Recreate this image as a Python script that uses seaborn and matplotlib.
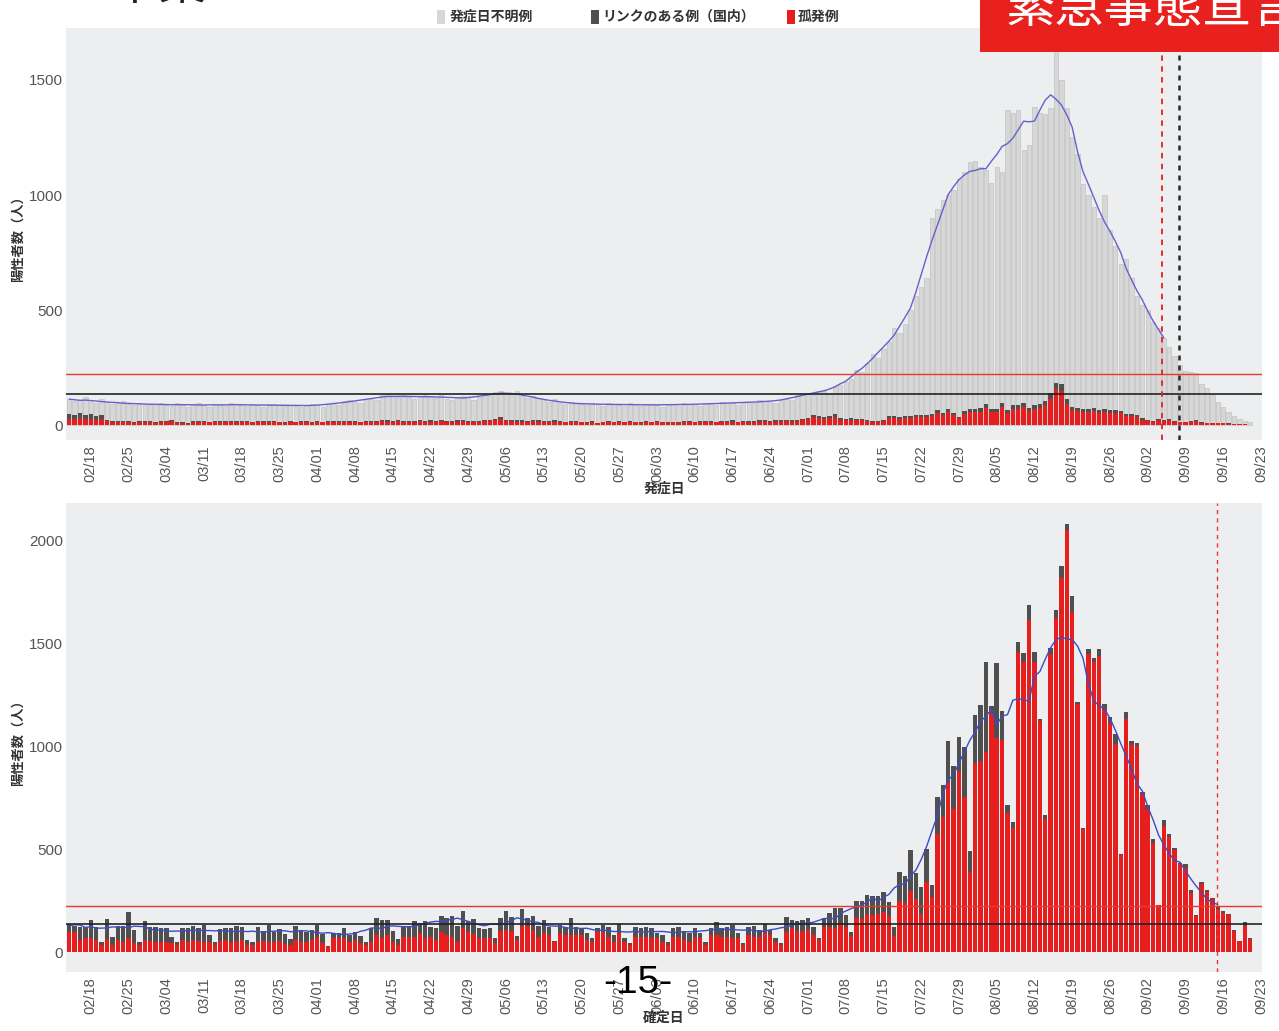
import numpy as np
import pandas as pd
import matplotlib
matplotlib.use("Agg")
import matplotlib.pyplot as plt
from matplotlib.patches import Rectangle
import seaborn as sns

sns.set_style("white")
plt.rcParams["font.family"] = ["Liberation Sans", "Noto Sans CJK JP"]

# ---------------------------------------------------------------------------
# Data: daily counts from 2021-02-14 (one row per week, Sunday..Saturday)
# ---------------------------------------------------------------------------
tick_labels = ["02/18", "02/25", "03/04", "03/11", "03/18", "03/25", "04/01",
               "04/08", "04/15", "04/22", "04/29", "05/06", "05/13", "05/20",
               "05/27", "06/03", "06/10", "06/17", "06/24", "07/01", "07/08",
               "07/15", "07/22", "07/29", "08/05", "08/12", "08/19", "08/26",
               "09/02", "09/09", "09/16", "09/23"]

# Upper panel: by onset date
onset_isolated = [
    28, 25, 30, 26, 28, 22, 25,
    18, 12, 13, 14, 12, 10, 13,
    12, 13, 11, 14, 12, 18, 11,
    10, 6, 13, 12, 14, 12, 13,
    14, 12, 13, 15, 12, 13, 12,
    12, 13, 12, 14, 12, 10, 13,
    12, 14, 13, 10, 13, 12, 14,
    13, 12, 14, 15, 13, 12, 14,
    14, 13, 16, 15, 14, 17, 15,
    15, 13, 16, 14, 15, 14, 16,
    14, 13, 15, 18, 14, 13, 14,
    16, 18, 20, 28, 17, 16, 15,
    15, 14, 16, 15, 14, 13, 15,
    13, 12, 14, 13, 12, 11, 13,
    8, 12, 13, 12, 14, 12, 13,
    12, 11, 13, 12, 14, 12, 11,
    12, 10, 14, 13, 12, 13, 14,
    13, 12, 14, 13, 15, 12, 14,
    14, 13, 15, 16, 14, 15, 17,
    17, 15, 18, 20, 25, 33, 29,
    28, 31, 36, 23, 22, 22, 21,
    22, 16, 14, 15, 16, 30, 31,
    28, 31, 30, 33, 33, 34, 38,
    52, 43, 55, 42, 29, 50, 55,
    57, 58, 74, 55, 57, 79, 53,
    70, 71, 77, 59, 71, 75, 87,
    115, 155, 150, 93, 64, 59, 57,
    56, 59, 53, 56, 53, 54, 51,
    40, 38, 36, 24, 18, 14, 21,
    18, 21, 15, 12, 12, 13, 18,
    10, 8, 8, 7, 8, 6, 5,
    3, 3, 2,
]
onset_linked = [
    22, 20, 22, 18, 20, 18, 20,
    6, 4, 5, 5, 4, 3, 4,
    4, 5, 3, 4, 4, 6, 3,
    3, 2, 4, 5, 4, 3, 4,
    4, 5, 4, 3, 4, 4, 3,
    4, 3, 4, 5, 3, 3, 4,
    3, 4, 4, 3, 4, 3, 5,
    4, 4, 5, 4, 5, 3, 4,
    5, 4, 5, 6, 5, 5, 4,
    4, 5, 6, 5, 5, 4, 5,
    5, 4, 5, 6, 4, 4, 5,
    6, 6, 6, 8, 6, 5, 5,
    5, 4, 5, 5, 4, 4, 5,
    4, 3, 4, 4, 3, 3, 4,
    2, 3, 4, 3, 4, 3, 4,
    3, 3, 4, 3, 4, 3, 3,
    3, 3, 4, 4, 3, 4, 4,
    4, 3, 4, 4, 5, 3, 4,
    4, 4, 5, 5, 4, 5, 5,
    5, 5, 6, 6, 7, 10, 9,
    8, 9, 10, 7, 6, 7, 6,
    6, 4, 4, 4, 4, 8, 9,
    8, 9, 8, 9, 9, 9, 10,
    13, 11, 13, 10, 7, 12, 13,
    13, 14, 17, 13, 13, 18, 12,
    15, 16, 17, 13, 16, 17, 19,
    23, 29, 28, 19, 14, 13, 13,
    12, 13, 12, 12, 12, 12, 11,
    8, 8, 7, 5, 4, 3, 4,
    4, 4, 3, 2, 2, 3, 4,
    2, 2, 2, 2, 2, 1, 1,
    1, 0, 0,
]
onset_unknown = [
    65, 60, 58, 76, 52, 55, 70,
    76, 74, 77, 86, 76, 72, 81,
    76, 67, 76, 78, 72, 58, 81,
    75, 72, 75, 78, 67, 63, 73,
    72, 65, 78, 74, 72, 67, 75,
    70, 64, 76, 71, 70, 69, 71,
    69, 60, 71, 77, 69, 65, 73,
    78, 72, 86, 91, 82, 83, 97,
    99, 93, 109, 114, 106, 98, 113,
    101, 94, 106, 113, 105, 100, 109,
    96, 91, 102, 101, 102, 93, 105,
    108, 101, 119, 112, 117, 111, 130,
    108, 100, 104, 98, 92, 83, 92,
    81, 75, 82, 79, 77, 72, 78,
    82, 69, 78, 77, 70, 67, 77,
    75, 68, 75, 75, 68, 65, 78,
    77, 71, 76, 75, 73, 67, 77,
    79, 73, 82, 81, 74, 73, 82,
    84, 77, 88, 85, 82, 76, 88,
    93, 88, 106, 112, 103, 87, 112,
    114, 100, 119, 145, 157, 171, 213,
    202, 250, 292, 271, 310, 322, 380,
    364, 400, 462, 518, 558, 597, 852,
    875, 926, 932, 968, 1034, 1038, 1077,
    1080, 1051, 1018, 983, 1053, 1003, 1305,
    1270, 1283, 1102, 1145, 1297, 1263, 1244,
    1242, 1516, 1322, 1268, 1172, 1108, 980,
    932, 878, 835, 932, 785, 714, 638,
    672, 594, 517, 491, 478, 433, 395,
    358, 315, 282, 246, 221, 214, 203,
    168, 150, 120, 91, 70, 48, 34,
    21, 15, 10,
]

# Lower panel: by confirmation date
confirmed_isolated = [
    95, 95, 58, 66, 70, 58, 34,
    63, 34, 58, 50, 66, 42, 34,
    58, 53, 50, 50, 50, 42, 34,
    58, 50, 58, 53, 50, 50, 34,
    53, 58, 50, 53, 58, 34, 34,
    50, 53, 50, 50, 53, 37, 34,
    58, 50, 50, 58, 74, 42, 26,
    66, 66, 66, 50, 58, 42, 34,
    50, 83, 66, 83, 50, 34, 74,
    74, 74, 91, 66, 74, 58, 99,
    83, 74, 50, 118, 99, 88, 66,
    66, 66, 42, 102, 107, 102, 58,
    128, 128, 107, 74, 91, 83, 50,
    91, 83, 83, 83, 83, 58, 50,
    99, 99, 74, 50, 91, 50, 34,
    74, 74, 74, 66, 66, 50, 34,
    74, 74, 58, 50, 74, 66, 34,
    83, 83, 74, 74, 66, 66, 34,
    83, 74, 74, 91, 83, 50, 34,
    99, 115, 102, 102, 107, 83, 58,
    123, 123, 118, 140, 120, 80, 165,
    160, 185, 180, 185, 196, 176, 79,
    247, 237, 298, 257, 186, 338, 267,
    572, 654, 827, 695, 878, 755, 389,
    918, 928, 969, 1162, 1040, 1030, 674,
    603, 1457, 1407, 1610, 1407, 1122, 644,
    1447, 1620, 1814, 2047, 1651, 1203, 598,
    1447, 1407, 1437, 1173, 1112, 1010, 471,
    1132, 1005, 1000, 766, 694, 527, 227,
    613, 557, 496, 425, 410, 288, 176,
    328, 293, 257, 211, 191, 178, 104,
    54, 125, 64,
]
confirmed_linked = [
    39, 33, 65, 57, 85, 65, 16,
    97, 40, 70, 78, 127, 65, 16,
    92, 70, 70, 65, 65, 32, 16,
    60, 65, 68, 62, 81, 33, 16,
    57, 57, 65, 73, 65, 24, 16,
    70, 49, 81, 49, 57, 49, 27,
    70, 57, 49, 49, 57, 44, 5,
    28, 28, 49, 33, 41, 36, 16,
    65, 80, 89, 72, 52, 27, 52,
    52, 76, 48, 84, 49, 57, 77,
    80, 102, 78, 82, 51, 72, 49,
    46, 52, 28, 65, 92, 70, 21,
    79, 35, 69, 52, 64, 40, 5,
    40, 40, 84, 37, 32, 33, 16,
    19, 32, 49, 33, 43, 16, 8,
    46, 41, 46, 52, 25, 33, 16,
    44, 46, 44, 41, 41, 25, 16,
    35, 64, 41, 46, 65, 25, 8,
    40, 54, 33, 43, 24, 16, 8,
    73, 40, 48, 53, 60, 37, 8,
    44, 65, 94, 75, 60, 15, 85,
    90, 90, 92, 85, 97, 68, 41,
    141, 133, 196, 129, 132, 160, 59,
    181, 157, 198, 207, 167, 241, 101,
    231, 270, 439, 31, 363, 141, 39,
    27, 46, 46, 74, 49, 10, 23,
    31, 39, 60, 29, 79, 11, 3,
    23, 22, 36, 33, 29, 49, 3,
    33, 20, 17, 13, 19, 21, 1,
    26, 15, 11, 8, 15, 13, 2,
    14, 8, 3, 7, 8, 8, 2,
    1, 23, 2,
]

# Reference levels (cases per day) and marker days (index from 02/14)
level_high = 224
level_mid = 135
onset_line_end = 203
confirmed_line_end = 213
onset_marks = [(202.7, "#e32222", 1.3, (0, (3, 3))),
               (205.8, "#2b2b2b", 1.8, (0, (2, 2)))]
confirmed_marks = [(212.9, "#e03a3a", 1.0, (0, (3, 3)))]

# ---------------------------------------------------------------------------
W, H = 1279, 1031
RED = "#e61e1e"
DARK = "#4f4f4f"
LIGHT = "#d7d7d7"
AX_BG = "#eceef0"

days = np.arange(len(confirmed_isolated))
tick_pos = 4 + 7 * np.arange(len(tick_labels))

fig = plt.figure(figsize=(W / 100, H / 100), dpi=100, facecolor="white")
ax_top = fig.add_axes([66 / W, 1 - 440 / H, 1196 / W, 412 / H])
ax_bot = fig.add_axes([66 / W, 1 - 972 / H, 1196 / W, 469 / H])


def draw_bars(ax, heights, color, edge=None, lw=0.0, width=0.82):
    sns.barplot(x=days, y=heights, orient="x", color=color, saturation=1,
                width=width, errorbar=None, edgecolor=edge or color,
                linewidth=lw, ax=ax, zorder=2)


def style_axes(ax, yticks, ylim):
    ax.set_facecolor(AX_BG)
    for s in ax.spines.values():
        s.set_visible(False)
    ax.set_xlim(-0.6, 221.2)
    ax.set_ylim(*ylim)
    ax.set_xticks(tick_pos)
    ax.set_xticklabels(tick_labels, rotation=90)
    ax.set_yticks(yticks)
    ax.set_yticklabels([str(v) for v in yticks])
    ax.tick_params(axis="x", length=0, pad=4, labelsize=10.5, labelcolor="#555555")
    ax.tick_params(axis="y", length=0, pad=2, labelsize=11, labelcolor="#555555")
    ax.set_xlabel("")
    ax.set_ylabel("")
    ax.grid(False)


# ---- upper panel (onset date) ----
o_iso = np.array(onset_isolated)
o_known = o_iso + np.array(onset_linked)
o_total = o_known + np.array(onset_unknown)

draw_bars(ax_top, o_total, LIGHT, edge="#c2c2c2", lw=0.5, width=0.8)
draw_bars(ax_top, o_known, DARK)
draw_bars(ax_top, o_iso, RED)

o_avg = pd.Series(o_total).rolling(7, center=True, min_periods=1).mean()
sns.lineplot(x=days[:onset_line_end + 1], y=o_avg.values[:onset_line_end + 1],
             color="#6560cc", linewidth=1.0, ax=ax_top, zorder=4)

ax_top.axhline(level_high, color="#e8382e", lw=1.0, zorder=5)
ax_top.axhline(level_mid, color="#222222", lw=1.2, zorder=5)
for xpos, col, lw, ls in onset_marks:
    ax_top.axvline(xpos, color=col, lw=lw, linestyle=ls, zorder=6)
style_axes(ax_top, [0, 500, 1000, 1500], (-65, 1726))

# ---- lower panel (confirmation date) ----
c_iso = np.array(confirmed_isolated)
c_total = c_iso + np.array(confirmed_linked)

draw_bars(ax_bot, c_total, DARK)
draw_bars(ax_bot, c_iso, RED)

c_avg = pd.Series(c_total).rolling(7, center=True, min_periods=1).mean()
sns.lineplot(x=days[:confirmed_line_end + 1], y=c_avg.values[:confirmed_line_end + 1],
             color="#3c4cc4", linewidth=1.0, ax=ax_bot, zorder=4)

ax_bot.axhline(level_high, color="#e8382e", lw=1.0, zorder=5)
ax_bot.axhline(level_mid, color="#222222", lw=1.2, zorder=5)
for xpos, col, lw, ls in confirmed_marks:
    ax_bot.axvline(xpos, color=col, lw=lw, linestyle=ls, zorder=6)
style_axes(ax_bot, [0, 500, 1000, 1500, 2000], (-97, 2180))

# ---- axis titles ----
fig.text(664 / W, 1 - 489 / H, "発症日", ha="center", va="center",
         fontsize=10, fontweight="bold", color="#333333")
fig.text(664 / W, 1 - 1018 / H, "確定日", ha="center", va="center",
         fontsize=10, fontweight="bold", color="#333333")
fig.text(18 / W, 1 - 236 / H, "陽性者数（人）", ha="center", va="center",
         rotation=90, fontsize=9.5, fontweight="bold", color="#333333")
fig.text(18 / W, 1 - 740 / H, "陽性者数（人）", ha="center", va="center",
         rotation=90, fontsize=9.5, fontweight="bold", color="#333333")

# ---- legend ----
legend_items = [(437, 450, LIGHT, "発症日不明例"),
                (591, 602, DARK, "リンクのある例（国内）"),
                (787, 798, RED, "孤発例")]
for sx, tx, col, label in legend_items:
    fig.add_artist(Rectangle((sx / W, 1 - 24 / H), 8 / W, 14 / H,
                             transform=fig.transFigure, facecolor=col,
                             edgecolor="none"))
    fig.text(tx / W, 1 - 17 / H, label, ha="left", va="center",
             fontsize=10, fontweight="bold", color="#333333")

# ---- page heading (runs off the top edge) ----
fig.text(72 / W, 1 + 1 / H, "2 千葉", ha="left", va="baseline",
         fontsize=34, color="#222222")

# ---- banner ----
fig.add_artist(Rectangle((980 / W, 1 - 52 / H), 299 / W, 52 / H,
                         transform=fig.transFigure, facecolor="#e8201e",
                         edgecolor="none"))
fig.text(1006 / W, 1 - 22 / H, "緊急事態宣言", ha="left", va="baseline",
         fontsize=35.5, color="white")

# ---- page number ----
fig.text(638 / W, 1 - 983 / H, "-15-", ha="center", va="center",
         fontsize=28, color="black")

fig.savefig("out.png", dpi=100, facecolor="white")
